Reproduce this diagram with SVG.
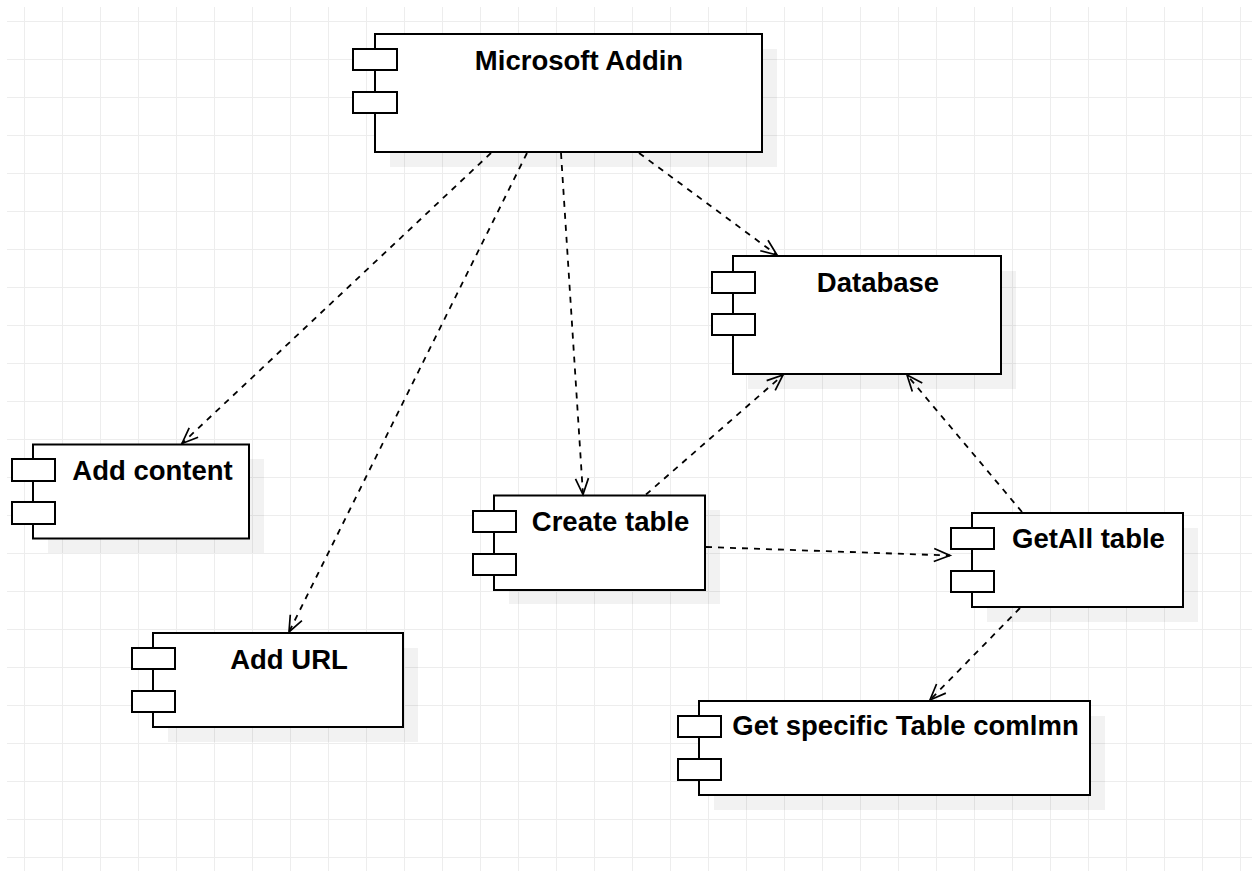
<svg xmlns="http://www.w3.org/2000/svg" width="1252" height="871" viewBox="0 0 1252 871">
<defs>
<pattern id="grid" patternUnits="userSpaceOnUse" x="0" y="0" width="38" height="38">
<path d="M24.5,0 V38 M0,21.5 H38" stroke="#ededed" stroke-width="1" fill="none"/>
</pattern>
<marker id="open" markerUnits="userSpaceOnUse" viewBox="-17 -8 19 16" refX="0" refY="0" markerWidth="19" markerHeight="16" orient="auto" overflow="visible">
<path d="M-16,-6.5 L0,0 L-16,6.5" fill="none" stroke="#000" stroke-width="1.7"/>
</marker>
</defs>
<style>
.shadow{fill:#000;fill-opacity:0.05;stroke:none}
.box{fill:#fff;stroke:#000;stroke-width:2}
.port{fill:#fff;stroke:#000;stroke-width:2}
.lbl{font-family:"Liberation Sans",Arial,sans-serif;font-weight:bold;font-size:27.5px;fill:#000;text-anchor:middle}
.edge{fill:none;stroke:#000;stroke-width:1.8;stroke-dasharray:6 6;marker-end:url(#open)}
</style>
<rect x="0" y="0" width="1252" height="871" fill="#fff"/>
<rect x="7" y="7" width="1245" height="864" fill="url(#grid)"/>

<g id="microsoft-addin">
<rect class="shadow" x="390" y="49" width="387" height="118"/>
<rect class="box" x="375" y="34" width="387" height="118"/>
<rect class="port" x="353" y="49" width="44" height="21"/>
<rect class="port" x="353" y="92" width="44" height="21"/>
<text class="lbl" x="579" y="70">Microsoft Addin</text>
</g>

<g id="database">
<rect class="shadow" x="748" y="271" width="268" height="118"/>
<rect class="box" x="733" y="256" width="268" height="118"/>
<rect class="port" x="712" y="272" width="43" height="21"/>
<rect class="port" x="712" y="314" width="43" height="21"/>
<text class="lbl" x="878" y="291.5">Database</text>
</g>

<g id="add-content">
<rect class="shadow" x="48" y="459" width="216" height="94"/>
<rect class="box" x="33" y="444.5" width="216" height="94"/>
<rect class="port" x="12" y="459" width="43" height="22"/>
<rect class="port" x="12" y="502" width="43" height="22"/>
<text class="lbl" x="152.5" y="480">Add content</text>
</g>

<g id="create-table">
<rect class="shadow" x="509" y="510" width="211" height="94"/>
<rect class="box" x="494" y="495.5" width="211" height="94.5"/>
<rect class="port" x="473" y="511" width="43" height="21"/>
<rect class="port" x="473" y="554" width="43" height="21"/>
<text class="lbl" x="610.5" y="530.5">Create table</text>
</g>

<g id="getall-table">
<rect class="shadow" x="987" y="528" width="211" height="94"/>
<rect class="box" x="972" y="513" width="211" height="94"/>
<rect class="port" x="951" y="528" width="43" height="21"/>
<rect class="port" x="951" y="571" width="43" height="21"/>
<text class="lbl" x="1088.5" y="547.5">GetAll table</text>
</g>

<g id="get-specific">
<rect class="shadow" x="714" y="716" width="391" height="94"/>
<rect class="box" x="699" y="701" width="391" height="94"/>
<rect class="port" x="678" y="716" width="43" height="21"/>
<rect class="port" x="678" y="759" width="43" height="21"/>
<text class="lbl" x="905.5" y="735">Get specific Table comlmn</text>
</g>

<g id="add-url">
<rect class="shadow" x="168" y="648" width="250" height="94"/>
<rect class="box" x="153" y="633" width="250" height="94"/>
<rect class="port" x="132" y="648" width="43" height="21"/>
<rect class="port" x="132" y="691" width="43" height="21"/>
<text class="lbl" x="289" y="668.5">Add URL</text>
</g>

<g id="connectors">
<path class="edge" d="M491,153 L182,443.5"/>
<path class="edge" d="M527,153 L289,632"/>
<path class="edge" d="M561,153 L583,494.5"/>
<path class="edge" d="M639,153 L777,255"/>
<path class="edge" d="M646,494.5 L783,375"/>
<path class="edge" d="M1022,512 L907,375"/>
<path class="edge" d="M706,547 L950,555.5"/>
<path class="edge" d="M1020,608 L930,700"/>
</g>
</svg>
